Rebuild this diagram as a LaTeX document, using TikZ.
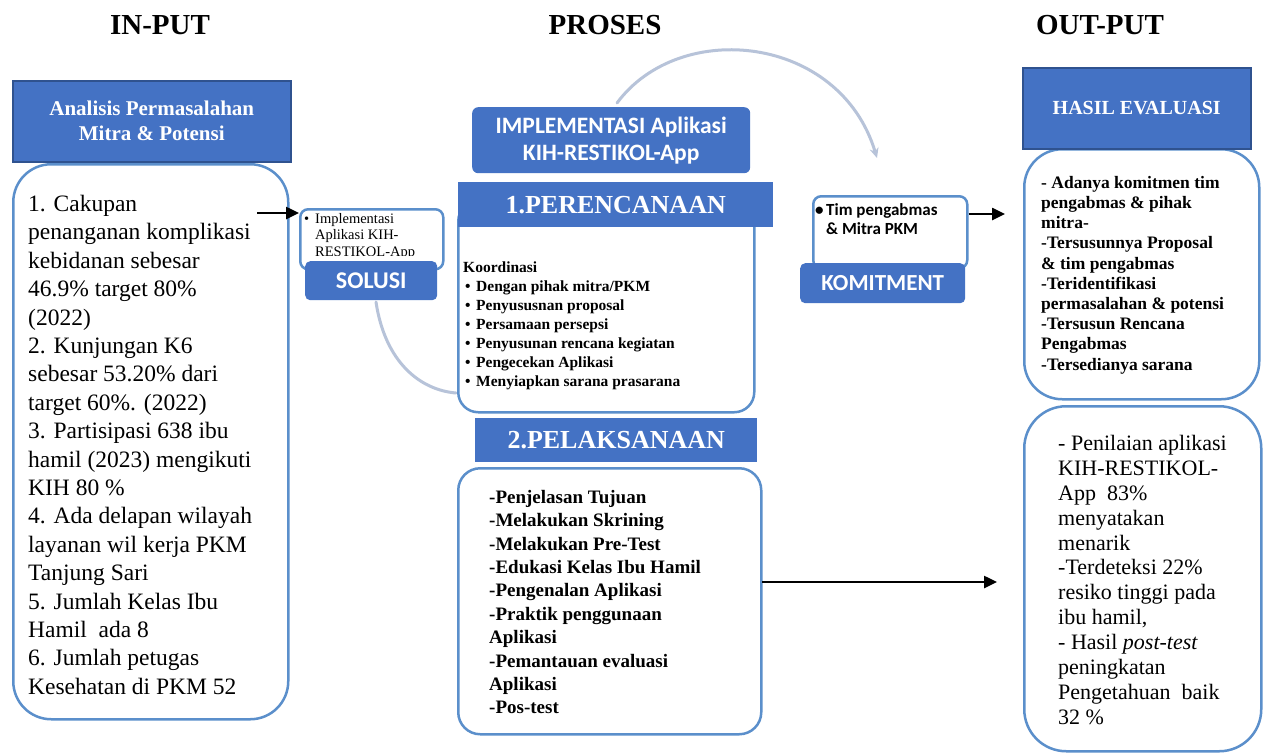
\documentclass[tikz,border=0pt]{standalone}
\usepackage{fontspec}
\setmainfont{Liberation Serif}
\newfontfamily\carl{Carlito}
\usetikzlibrary{arrows.meta}
\definecolor{hdr}{HTML}{4472C4}
\definecolor{hdrdark}{HTML}{2F528F}
\definecolor{bord}{HTML}{5B8FCB}
\definecolor{arcc}{HTML}{B7C3D9}
\newcommand\fs[2]{\fontsize{#1}{#2}\selectfont}
\newcommand\bul{\hspace*{2pt}\makebox[11pt][l]{\textbullet}}
\begin{document}
\begin{tikzpicture}[x=1pt,y=-1pt,
  title/.style={font=\fs{29}{33}\bfseries, inner sep=0},
  sqhdr/.style={fill=hdr, draw=hdrdark, line width=1.5pt, inner sep=0, anchor=north west, text=white, align=center},
  bhdr/.style={fill=hdr, draw=none, inner sep=0, anchor=north west, text=white, align=center},
  rbtn/.style={fill=hdr, rounded corners=5pt, inner sep=0, anchor=north west, text=white, align=center},
  cbox/.style={draw=bord, line width=2.5pt, fill=white, inner sep=0, anchor=north west},
  txt/.style={anchor=north west, inner sep=0, align=left},
  arr/.style={line width=2.5pt, -{Triangle[length=13pt,width=12pt]}},
  arcline/.style={draw=arcc, line width=3pt, line cap=round}
]
\useasboundingbox (0,0) rectangle (1264,753);
\fill[white] (0,0) rectangle (1264,753);

% titles
\node[title] (tin) at (160,25) {IN-PUT};
\node[title] (tpro) at (605,25) {PROSES};
\node[title] (tout) at (1100,25) {OUT-PUT};

% background arcs
\coordinate (lo1) at (376,302);
\coordinate (lo2) at (456,393);
\coordinate (top1) at (617,103);
\coordinate (top2) at (877,158);
\draw[arcline] (lo1) .. controls (385,362) and (420,390) .. (lo2);
\draw[arcline, -{Stealth[length=10pt,width=9pt]}] (top1) .. controls (680,18) and (840,35) .. (top2);

% INPUT column
\node[cbox, rounded corners=38pt, minimum width=275, minimum height=555] (lbox) at (12,163) {};
\node[sqhdr, minimum width=278, minimum height=81, font=\fs{21}{25}\bfseries] (lhdr) at (12,80) {Analisis Permasalahan\\Mitra \& Potensi};
\node[txt, font=\fs{23.5}{28.4}] (ltxt) at (28,195) {1. Cakupan\\penanganan komplikasi\\kebidanan sebesar\\46.9\% target 80\%\\(2022)\\2. Kunjungan K6\\sebesar 53.20\% dari\\target 60\%. (2022)\\3. Partisipasi 638 ibu\\hamil (2023) mengikuti\\KIH 80 \%\\4. Ada delapan wilayah\\layanan wil kerja PKM\\Tanjung Sari\\5. Jumlah Kelas Ibu\\Hamil~ ada 8\\6. Jumlah petugas\\Kesehatan di PKM 52};

% SOLUSI
\node[cbox, rounded corners=8pt, minimum width=143, minimum height=60] (sbox) at (299,208) {};
\begin{scope}
\clip (299,200) rectangle (442,255);
\node[txt, font=\fs{14.5}{16.5}] (stxt) at (304,213) {\makebox[11pt][l]{\textbullet}Implementasi\\\hspace*{11pt}Aplikasi KIH-\\\hspace*{11pt}RESTIKOL-App};
\end{scope}
\node[rbtn, minimum width=132, minimum height=39, font=\carl\fs{24}{26}\bfseries] (sol) at (305,261) {SOLUSI};
\coordinate (a1) at (257,213);
\draw[arr] (a1) -- (sbox.west |- a1);

% PROSES
\node[rbtn, rounded corners=6pt, minimum width=278, minimum height=66, font=\carl\fs{23.5}{27}\bfseries] (impl) at (472,107) {IMPLEMENTASI Aplikasi\\KIH-RESTIKOL-App};

\node[cbox, rounded corners=20pt, minimum width=296, minimum height=211] (pbox) at (457,200) {};
\node[bhdr, minimum width=315, minimum height=45, font=\fs{26}{30}\bfseries] (phdr) at (458,182) {1.PERENCANAAN};
\node[txt, font=\fs{15.5}{19}\bfseries] (ptxt) at (463,262) {Koordinasi\\\bul Dengan pihak mitra/PKM\\\bul Penyususnan proposal\\\bul Persamaan persepsi\\\bul Penyusunan rencana kegiatan\\\bul Pengecekan Aplikasi\\\bul Menyiapkan sarana prasarana};

\node[bhdr, minimum width=282, minimum height=44, font=\fs{26}{30}\bfseries] (lhdr2) at (475,418) {2.PELAKSANAAN};
\node[cbox, rounded corners=22pt, minimum width=303, minimum height=266] (lkbox) at (457,467) {};
\node[txt, font=\fs{19}{23.4}\bfseries] (lktxt) at (489,490) {-Penjelasan Tujuan\\-Melakukan Skrining\\-Melakukan Pre-Test\\-Edukasi Kelas Ibu Hamil\\-Pengenalan Aplikasi\\-Praktik penggunaan\\Aplikasi\\-Pemantauan evaluasi\\Aplikasi\\-Pos-test};

% KOMITMENT
\node[cbox, rounded corners=8pt, minimum width=154, minimum height=72] (kbox) at (812,195) {};
\node[txt, font=\carl\fs{17}{19}\bfseries] (ktxt) at (815,203) {\makebox[11pt][l]{\textbullet}Tim pengabmas\\\hspace*{11pt}\& Mitra PKM};
\node[rbtn, minimum width=165, minimum height=40, font=\carl\fs{23}{26}\bfseries] (kom) at (800,263) {KOMITMENT};

% OUTPUT
\node[cbox, rounded corners=38pt, minimum width=235, minimum height=250] (hbox) at (1023,148) {};
\node[sqhdr, minimum width=228, minimum height=81, font=\fs{20}{24}\bfseries] (hhdr) at (1022,67) {HASIL EVALUASI};
\node[txt, font=\fs{17.5}{20.2}\bfseries] (htxt) at (1041,176) {- Adanya komitmen tim\\pengabmas \& pihak\\mitra-\\-Tersusunnya Proposal\\\& tim pengabmas\\-Teridentifikasi\\permasalahan \& potensi\\-Tersusun Rencana\\Pengabmas\\-Tersedianya sarana};

\node[cbox, rounded corners=42pt, minimum width=237, minimum height=345] (obox) at (1023,405) {};
\node[txt, font=\fs{22}{24.9}] (otxt) at (1058,435) {- Penilaian aplikasi\\KIH-RESTIKOL-\\App~ 83\%\\menyatakan\\menarik\\-Terdeteksi 22\%\\resiko tinggi pada\\ibu hamil,\\- Hasil \textit{post-test}\\peningkatan\\Pengetahuan~ baik\\32 \%};

% connectors
\coordinate (a2) at (kbox.east |- 0,214);
\draw[arr] (a2) -- (1005,214) coordinate (a2e);
\coordinate (a3) at (762,582);
\coordinate (a3e) at (997,582);
\draw[arr] (a3) -- (a3e);
\end{tikzpicture}
\end{document}
